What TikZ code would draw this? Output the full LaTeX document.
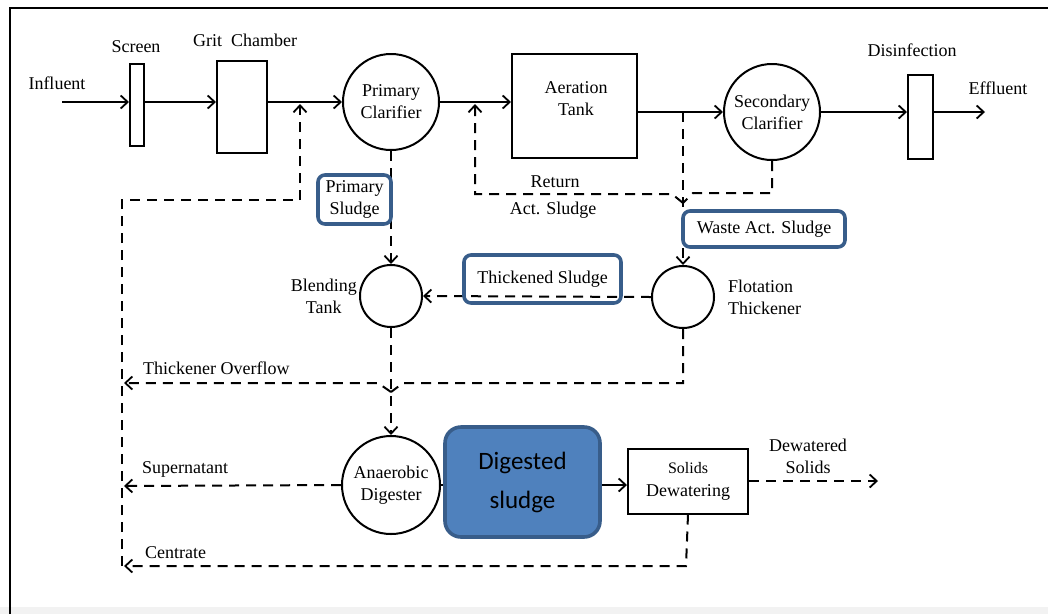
\documentclass[tikz,border=0pt]{standalone}
\usepackage{fontspec}
\setmainfont{Liberation Serif}
\newfontfamily\carlitofont{Carlito}
\usetikzlibrary{arrows.meta}
\definecolor{boxblue}{HTML}{385D8A}
\definecolor{fillblue}{HTML}{4F81BD}
\tikzset{
  lbl/.style={font=\fontsize{18}{22}\selectfont, align=center, inner sep=0pt},
  flow/.style={line width=2pt},
  dsh/.style={line width=2pt, dash pattern=on 10pt off 7pt},
  arr/.style={-{Straight Barb[length=7pt,width=13pt,line width=1.8pt]}},
  unit/.style={draw, line width=2pt, inner sep=0pt},
  circ/.style={draw, circle, line width=2pt, inner sep=0pt, font=\fontsize{18}{22}\selectfont, align=center},
  bluebox/.style={draw=boxblue, line width=3.6pt, rounded corners=7pt, inner sep=0pt},
}
\begin{document}
\begin{tikzpicture}[x=1pt,y=-1pt]
\useasboundingbox (0,0) rectangle (1048,614);
\fill[black!5] (0,607) rectangle (1048,614);
\draw[line width=2pt] (10,614) -- (10,8) -- (1048,8);

% units
\node[unit, minimum width=14pt, minimum height=82pt] (screen) at (137,105) {};
\node[unit, minimum width=50pt, minimum height=92pt] (grit) at (242,107) {};
\node[circ, minimum size=96pt] (pc) at (391,102) {Primary\\Clarifier};
\node[unit, minimum width=125pt, minimum height=104pt] (aer) at (574.5,106) {};
\node[lbl] (aertxt) at (576,99) {Aeration\\Tank};
\node[circ, minimum size=96pt] (sc) at (772,112) {Secondary\\Clarifier};
\node[unit, minimum width=25pt, minimum height=84pt] (dis) at (920.5,117) {};
\node[circ, minimum size=62pt] (bt) at (391,296) {};
\node[circ, minimum size=62pt] (flot) at (683,297) {};
\node[circ, minimum size=98pt] (ad) at (391,485) {Anaerobic\\Digester};
\node[unit, minimum width=120pt, minimum height=65pt, font=\fontsize{18}{23}\selectfont, align=center] (sd) at (688,481) {{\fontsize{16}{23}\selectfont Solids}\\Dewatering};

% coordinates
\coordinate (in) at (62,102);
\coordinate (eff) at (985,112);
\coordinate (rl1) at (122,566);
\coordinate (rl2) at (122,200);
\coordinate (rl3) at (300,200);
\coordinate (rl4) at (300,104);
\coordinate (jn) at (683,203);
\coordinate (ra1) at (672,194);
\coordinate (ra2) at (475,194);
\coordinate (ra3) at (475,104);
\coordinate (wa) at (683,112);
\coordinate (su1) at (772,193);
\coordinate (su2) at (693,193);
\coordinate (to1) at (683,383);
\coordinate (to2) at (403,383);
\coordinate (tj) at (391,392);
\coordinate (to3) at (378,383);
\coordinate (to4) at (124,383);
\coordinate (sn) at (124,486);
\coordinate (ce1) at (686,566);
\coordinate (ce2) at (124,566);
\coordinate (dw) at (878,481);

% main flow
\draw[flow,arr] (in) -- (in -| screen.west);
\draw[flow,arr] (screen.east |- in) -- (grit.west |- in);
\draw[flow,arr] (grit.east |- in) -- (pc.west);
\draw[flow,arr] (pc.east) -- (aer.west |- pc.east);
\draw[flow,arr] (aer.east |- sc.west) -- (sc.west);
\draw[flow,arr] (sc.east) -- (dis.west |- sc.east);
\draw[flow,arr] (dis.east |- eff) -- (eff);

% recycle loop
\draw[dsh,arr] (rl1) -- (rl2) -- (rl3) -- (rl4);
% primary sludge
\draw[dsh,arr] (pc.south) -- (bt.north);
% return activated sludge
\draw[dsh,arr] (jn) -- (ra1) -- (ra2) -- (ra3);
% waste activated sludge
\draw[dsh,arr] (wa) -- (flot.north);
\draw[dsh] (sc.south) -- (su1) -- (su2) -- (jn);
% thickened sludge
\draw[dsh,arr] (flot.west) -- (bt.east);
% blending to digester
\draw[dsh,arr] (bt.south) -- (ad.north);
% thickener overflow
\draw[dsh] (flot.south) -- (to1) -- (to2) -- (tj);
\draw[dsh,arr] (tj) -- (to3) -- (to4);
% supernatant
\draw[dsh,arr] (ad.west) -- (sn);
% digested sludge to dewatering
\draw[flow,arr] (ad.east) -- (sd.west |- ad.east);
% centrate
\draw[dsh,arr] (sd.south) -- (ce1) -- (ce2);
% dewatered solids
\draw[dsh,arr] (sd.east) -- (dw);

% blue boxes
\node[bluebox, minimum width=73pt, minimum height=49pt, lbl] (psl) at (354.5,199.5) {Primary\\Sludge};
\node[bluebox, minimum width=157pt, minimum height=48pt, lbl] (tsl) at (542.5,279) {Thickened Sludge};
\node[bluebox, minimum width=162pt, minimum height=36pt, lbl] (wsl) at (764,229) {Waste Act. Sludge};
\node[bluebox, fill=fillblue, minimum width=155pt, minimum height=110pt, rounded corners=16pt, font=\carlitofont\fontsize{25}{39}\selectfont, align=center] (dsl) at (522.5,482) {Digested\\sludge};

% labels
\node[lbl] (linf) at (57,83) {Influent};
\node[lbl] (lscr) at (136,47) {Screen};
\node[lbl] (lgrit) at (245,40) {Grit\ \ Chamber};
\node[lbl] (ldis) at (912,50) {Disinfection};
\node[lbl] (leff) at (998,88) {Effluent};
\node[lbl] (lret) at (555,182) {Return};
\node[lbl] (lact) at (553,210) {Act. Sludge};
\node[lbl, anchor=east] (lbt) at (357,296) {Blending\\Tank};
\node[lbl, anchor=west, align=left] (lflot) at (728,297) {Flotation\\Thickener};
\node[lbl, anchor=west] (ltov) at (143,368) {Thickener Overflow};
\node[lbl, anchor=west] (lsup) at (142,469) {Supernatant};
\node[lbl, anchor=west] (lcen) at (145,553) {Centrate};
\node[lbl] (ldws) at (808,456) {Dewatered\\Solids};
\end{tikzpicture}
\end{document}
